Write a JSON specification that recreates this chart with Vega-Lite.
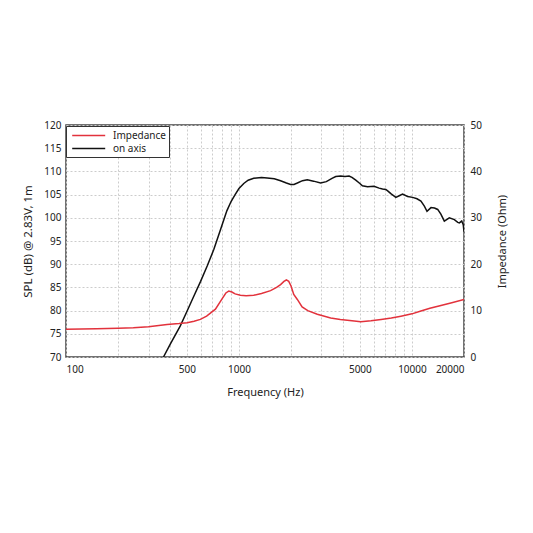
{
  "$schema": "https://vega.github.io/schema/vega-lite/v6.json",
  "autosize": {"type": "none"},
  "padding": {"left": 66, "top": 125, "right": 69, "bottom": 176},
  "width": 398,
  "height": 232,
  "config": {
    "font": "Noto Sans",
    "view": {"stroke": "#444", "strokeWidth": 1.5},
    "axis": {"labelFontSize": 10, "titleFontSize": 11, "labelColor": "#222", "titleColor": "#222", "titleFontWeight": "normal", "ticks": false, "domain": false, "gridColor": "#cccccc", "gridDash": [2, 2], "gridWidth": 1},
    "legend": {"labelFontSize": 10, "labelColor": "#222"}
  },
  "data": {"values": [
    {"s": "on axis", "f": 366, "v": 70},
    {"s": "on axis", "f": 400, "v": 72.7},
    {"s": "on axis", "f": 458, "v": 76.7},
    {"s": "on axis", "f": 500, "v": 79.8},
    {"s": "on axis", "f": 548, "v": 83.1},
    {"s": "on axis", "f": 600, "v": 86.3},
    {"s": "on axis", "f": 655, "v": 89.6},
    {"s": "on axis", "f": 716, "v": 93.2},
    {"s": "on axis", "f": 780, "v": 97.3},
    {"s": "on axis", "f": 851, "v": 101.5},
    {"s": "on axis", "f": 900, "v": 103.5},
    {"s": "on axis", "f": 950, "v": 105.0},
    {"s": "on axis", "f": 1000, "v": 106.3},
    {"s": "on axis", "f": 1066, "v": 107.4},
    {"s": "on axis", "f": 1130, "v": 108.1},
    {"s": "on axis", "f": 1217, "v": 108.5},
    {"s": "on axis", "f": 1350, "v": 108.7},
    {"s": "on axis", "f": 1456, "v": 108.6},
    {"s": "on axis", "f": 1600, "v": 108.4},
    {"s": "on axis", "f": 1740, "v": 108.0},
    {"s": "on axis", "f": 1880, "v": 107.5},
    {"s": "on axis", "f": 1989, "v": 107.2},
    {"s": "on axis", "f": 2080, "v": 107.2},
    {"s": "on axis", "f": 2175, "v": 107.5},
    {"s": "on axis", "f": 2330, "v": 108.0},
    {"s": "on axis", "f": 2484, "v": 108.2},
    {"s": "on axis", "f": 2700, "v": 107.9},
    {"s": "on axis", "f": 2966, "v": 107.5},
    {"s": "on axis", "f": 3200, "v": 107.8},
    {"s": "on axis", "f": 3450, "v": 108.5},
    {"s": "on axis", "f": 3626, "v": 108.9},
    {"s": "on axis", "f": 3874, "v": 109.0},
    {"s": "on axis", "f": 4100, "v": 108.9},
    {"s": "on axis", "f": 4330, "v": 109.0},
    {"s": "on axis", "f": 4500, "v": 108.7},
    {"s": "on axis", "f": 4735, "v": 108.1},
    {"s": "on axis", "f": 5000, "v": 107.4},
    {"s": "on axis", "f": 5172, "v": 106.9},
    {"s": "on axis", "f": 5535, "v": 106.7},
    {"s": "on axis", "f": 6040, "v": 106.8},
    {"s": "on axis", "f": 6461, "v": 106.4},
    {"s": "on axis", "f": 6760, "v": 106.2},
    {"s": "on axis", "f": 7066, "v": 106.1},
    {"s": "on axis", "f": 7300, "v": 105.7},
    {"s": "on axis", "f": 7551, "v": 105.2},
    {"s": "on axis", "f": 8074, "v": 104.4},
    {"s": "on axis", "f": 8500, "v": 104.8},
    {"s": "on axis", "f": 8830, "v": 105.1},
    {"s": "on axis", "f": 9440, "v": 104.6},
    {"s": "on axis", "f": 10090, "v": 104.4},
    {"s": "on axis", "f": 10700, "v": 104.1},
    {"s": "on axis", "f": 11270, "v": 103.6},
    {"s": "on axis", "f": 11800, "v": 102.5},
    {"s": "on axis", "f": 12220, "v": 101.4},
    {"s": "on axis", "f": 12890, "v": 102.2},
    {"s": "on axis", "f": 13500, "v": 102.1},
    {"s": "on axis", "f": 14090, "v": 101.8},
    {"s": "on axis", "f": 14700, "v": 100.8},
    {"s": "on axis", "f": 15390, "v": 99.3},
    {"s": "on axis", "f": 16450, "v": 100.0},
    {"s": "on axis", "f": 17590, "v": 99.6},
    {"s": "on axis", "f": 18400, "v": 99.0},
    {"s": "on axis", "f": 18800, "v": 98.9},
    {"s": "on axis", "f": 19400, "v": 99.3},
    {"s": "on axis", "f": 19800, "v": 98.5},
    {"s": "on axis", "f": 20000, "v": 97.0},
    {"s": "Impedance", "f": 100, "v": 6.0},
    {"s": "Impedance", "f": 150, "v": 6.1},
    {"s": "Impedance", "f": 200, "v": 6.2},
    {"s": "Impedance", "f": 245, "v": 6.3},
    {"s": "Impedance", "f": 300, "v": 6.5},
    {"s": "Impedance", "f": 384, "v": 7.0},
    {"s": "Impedance", "f": 450, "v": 7.2},
    {"s": "Impedance", "f": 501, "v": 7.4},
    {"s": "Impedance", "f": 550, "v": 7.7},
    {"s": "Impedance", "f": 598, "v": 8.1},
    {"s": "Impedance", "f": 650, "v": 8.8},
    {"s": "Impedance", "f": 731, "v": 10.3},
    {"s": "Impedance", "f": 800, "v": 12.6},
    {"s": "Impedance", "f": 840, "v": 13.8},
    {"s": "Impedance", "f": 873, "v": 14.2},
    {"s": "Impedance", "f": 910, "v": 14.0},
    {"s": "Impedance", "f": 950, "v": 13.6},
    {"s": "Impedance", "f": 1019, "v": 13.3},
    {"s": "Impedance", "f": 1100, "v": 13.2},
    {"s": "Impedance", "f": 1217, "v": 13.3},
    {"s": "Impedance", "f": 1350, "v": 13.7},
    {"s": "Impedance", "f": 1523, "v": 14.3},
    {"s": "Impedance", "f": 1650, "v": 15.0},
    {"s": "Impedance", "f": 1740, "v": 15.6},
    {"s": "Impedance", "f": 1820, "v": 16.3},
    {"s": "Impedance", "f": 1880, "v": 16.6},
    {"s": "Impedance", "f": 1940, "v": 16.3},
    {"s": "Impedance", "f": 2000, "v": 15.3},
    {"s": "Impedance", "f": 2074, "v": 13.5},
    {"s": "Impedance", "f": 2175, "v": 12.4},
    {"s": "Impedance", "f": 2318, "v": 10.8},
    {"s": "Impedance", "f": 2500, "v": 10.0},
    {"s": "Impedance", "f": 2837, "v": 9.2},
    {"s": "Impedance", "f": 3391, "v": 8.4},
    {"s": "Impedance", "f": 3855, "v": 8.1},
    {"s": "Impedance", "f": 4500, "v": 7.8},
    {"s": "Impedance", "f": 5060, "v": 7.6},
    {"s": "Impedance", "f": 5800, "v": 7.8},
    {"s": "Impedance", "f": 6633, "v": 8.1},
    {"s": "Impedance", "f": 7600, "v": 8.4},
    {"s": "Impedance", "f": 8640, "v": 8.8},
    {"s": "Impedance", "f": 10000, "v": 9.3},
    {"s": "Impedance", "f": 11270, "v": 9.9},
    {"s": "Impedance", "f": 12700, "v": 10.5},
    {"s": "Impedance", "f": 14710, "v": 11.1},
    {"s": "Impedance", "f": 17000, "v": 11.7},
    {"s": "Impedance", "f": 20000, "v": 12.4}
  ]},
  "encoding": {
    "x": {"field": "f", "type": "quantitative", "title": "Frequency (Hz)",
      "scale": {"type": "log", "domain": [100, 20000], "nice": false},
      "axis": {"values": [100, 200, 300, 400, 500, 600, 700, 800, 900, 1000, 2000, 3000, 4000, 5000, 6000, 7000, 8000, 9000, 10000, 20000],
        "format": "d", "labelOverlap": false, "labelPadding": 7, "titlePadding": 12,
        "labelExpr": "indexof([100, 500, 1000, 5000, 10000, 20000], datum.value) >= 0 ? datum.label : ''"}},
    "color": {"field": "s", "type": "nominal", "title": null,
      "scale": {"domain": ["Impedance", "on axis"], "range": ["#e2323c", "#111111"]},
      "legend": {"orient": "none", "legendX": 0, "legendY": 1, "symbolType": "M-0.6,0H5.4", "symbolSize": 121, "symbolStrokeWidth": 1.5,
        "strokeColor": "#333", "fillColor": "white", "padding": 3, "labelOffset": 31, "rowPadding": 1, "symbolOpacity": 1}}
  },
  "layer": [
    {
      "transform": [{"filter": "datum.s === 'on axis'"}],
      "mark": {"type": "line", "strokeWidth": 1.5, "clip": true},
      "encoding": {
        "y": {"field": "v", "type": "quantitative", "title": "SPL (dB) @ 2.83V, 1m",
          "scale": {"domain": [70, 120], "nice": false, "zero": false},
          "axis": {"values": [70, 75, 80, 85, 90, 95, 100, 105, 110, 115, 120], "labelPadding": 5, "titlePadding": 10, "titleFontSize": 11.5, "grid": true}}
      }
    },
    {
      "transform": [{"filter": "datum.s === 'Impedance'"}],
      "mark": {"type": "line", "strokeWidth": 1.5, "clip": true},
      "encoding": {
        "y": {"field": "v", "type": "quantitative", "title": "Impedance (Ohm)",
          "scale": {"domain": [0, 50], "nice": false},
          "axis": {"orient": "right", "values": [0, 10, 20, 30, 40, 50], "grid": false, "labelPadding": 6, "titlePadding": 26, "titleAngle": 270}}
      }
    }
  ],
  "resolve": {"scale": {"y": "independent"}, "axis": {"y": "independent"}}
}
